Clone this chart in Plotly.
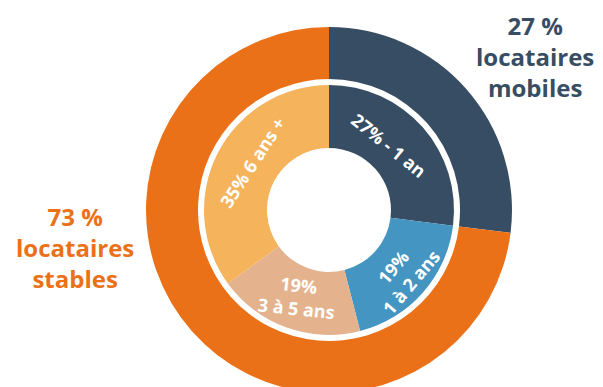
import math
import plotly.graph_objects as go

# Outer ring: share of mobile vs stable tenants
outer_labels = ["locataires mobiles", "locataires stables"]
outer_values = [27, 73]
outer_text = ["27 %<br>locataires<br>mobiles", "73 %<br>locataires<br>stables"]

# Inner ring: length of residence
inner_labels = ["- 1 an", "1 à 2 ans", "3 à 5 ans", "6 ans +"]
inner_values = [27, 19, 19, 35]
inner_text = ["27% - 1 an", "19%<br>1 à 2 ans", "19%<br>3 à 5 ans", "35% 6 ans +"]

# Styling
W, H = 603, 400
CX, CY = 329, 210          # ring centre, px from top-left
R_OUT, R_OUT_IN = 183, 131
R_IN, R_IN_HOLE = 125, 62
outer_colors = ["#374D63", "#EB7118"]
inner_colors = ["#374D63", "#4495C1", "#E4B38D", "#F5B35C"]
label_angles = [39, -50, 6, -57]       # text rotation of inner labels
label_nudge = [-6, 0, 0, 5]            # angular offset from slice middle (deg)
label_radius = [88, 97, 92, 90]
FONT = "Open Sans"


def domain(r):
    return dict(
        x=[(CX - r) / W, (CX + r) / W],
        y=[(H - CY - r) / H, (H - CY + r) / H],
    )


fig = go.Figure()
fig.add_trace(go.Pie(
    labels=outer_labels, values=outer_values, sort=False, direction="clockwise",
    rotation=0, hole=R_OUT_IN / R_OUT, domain=domain(R_OUT),
    marker=dict(colors=outer_colors, line=dict(width=0)),
    textinfo="none", hoverinfo="label+percent", showlegend=False,
))
fig.add_trace(go.Pie(
    labels=inner_labels, values=inner_values, sort=False, direction="clockwise",
    rotation=0, hole=R_IN_HOLE / R_IN, domain=domain(R_IN),
    marker=dict(colors=inner_colors, line=dict(width=0)),
    textinfo="none", hoverinfo="label+percent", showlegend=False,
))

# Labels inside the inner ring, placed at each slice's middle angle
total = sum(inner_values)
cum = 0
annotations = []
for i, v in enumerate(inner_values):
    mid = (cum + v / 2) / total * 360 + label_nudge[i]
    cum += v
    a = math.radians(mid)
    px = CX + label_radius[i] * math.sin(a)
    py = CY - label_radius[i] * math.cos(a)
    annotations.append(dict(
        x=px / W, y=1 - py / H, xref="paper", yref="paper",
        text=inner_text[i], showarrow=False, textangle=label_angles[i],
        xanchor="center", yanchor="middle",
        font=dict(family=FONT, size=18, color="white", weight="bold"),
    ))

# Outer ring captions
annotations.append(dict(
    x=535 / W, y=1 - 57 / H, xref="paper", yref="paper", text=outer_text[0],
    showarrow=False, xanchor="center", yanchor="middle", align="center",
    font=dict(family=FONT, size=24, color=outer_colors[0], weight="bold"),
))
annotations.append(dict(
    x=75 / W, y=1 - 247 / H, xref="paper", yref="paper", text=outer_text[1],
    showarrow=False, xanchor="center", yanchor="middle", align="center",
    font=dict(family=FONT, size=24, color=outer_colors[1], weight="bold"),
))

fig.update_layout(
    width=W, height=H, margin=dict(l=0, r=0, t=0, b=0),
    paper_bgcolor="white", plot_bgcolor="white",
    annotations=annotations,
)

fig.write_html("out.html")
